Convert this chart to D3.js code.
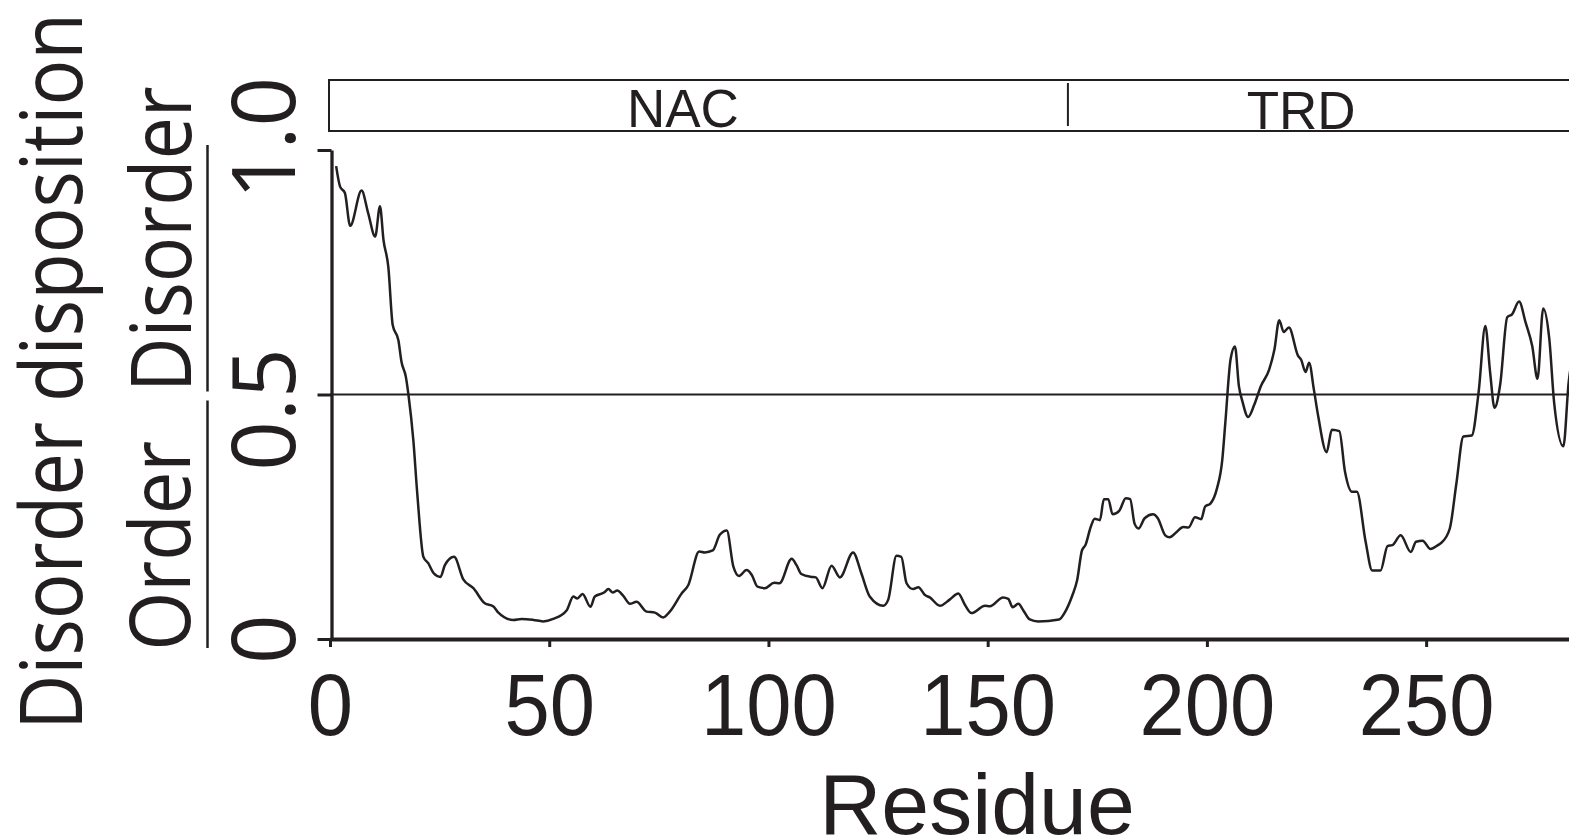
<!DOCTYPE html>
<html>
<head>
<meta charset="utf-8">
<script src="https://cdn.jsdelivr.net/npm/d3@7"></script>
<style>
  html, body { margin: 0; padding: 0; background: #fff; }
  svg { display: block; }
</style>
</head>
<body>
<script>
// ---------------- data ----------------
const residues = [
  1.4, 2.3, 3.4, 4.6, 7.2, 8.7, 10.3, 11.4, 12.2, 13.3, 14.3, 15.6, 16.3, 17.3, 17.9,
  19.0, 19.9, 21.3, 22.4, 23.6, 25.2, 26.2, 28.3, 30.4, 32.7, 35.3, 37.2, 38.4, 41.8,
  43.7, 46.4, 48.6, 50.9, 54.0, 55.5, 56.4, 57.6, 59.4, 60.4, 62.5, 63.5, 64.5, 65.5,
  66.9, 68.4, 69.9, 72.2, 74.1, 76.0, 77.5, 80.2, 81.7, 84.2, 85.5, 87.3, 88.9, 90.5,
  92.0, 93.3, 95.0, 96.2, 97.5, 99.2, 101.3, 102.5, 105.3, 106.4, 107.5, 109.8, 110.8,
  112.3, 114.4, 116.3, 119.3, 121.2, 123.1, 126.2, 127.3, 129.2, 130.3, 131.5, 133.0,
  134.2, 135.7, 136.8, 139.1, 141.4, 143.3, 144.8, 146.3, 149.4, 150.5, 153.5, 154.7,
  155.7, 157.0, 158.1, 159.6, 161.5, 166.3, 167.7, 169.3, 170.4, 171.5, 172.3, 173.5,
  174.4, 175.6, 176.5, 177.5, 178.5, 180.0, 181.5, 182.5, 183.5, 184.4, 185.8, 187.7,
  188.8, 190.5, 191.5, 193.1, 194.6, 195.8, 197.3, 198.7, 199.6, 200.8, 202.3, 203.5,
  204.2, 205.4, 206.4, 207.3, 208.1, 209.4, 210.8, 212.3, 214.2, 215.4, 216.5, 217.5,
  218.7, 220.8, 221.5, 222.5, 223.3, 224.4, 225.4, 227.3, 228.5, 230.2, 231.5, 233.1,
  234.2, 236.2, 237.7, 239.6, 241.2, 242.3, 244.2, 246.5, 247.7, 249.2, 251.0, 252.7,
  253.5, 255.4, 256.9, 258.5, 260.4, 262.0, 263.5, 264.6, 265.6, 266.9, 268.5, 269.6,
  271.2, 272.7, 274.2, 275.4, 276.7, 278.1, 279.2, 281.3, 282.5, 284.0
];
const disorder = [
  0.967, 0.925, 0.912, 0.845, 0.917, 0.871, 0.823, 0.885, 0.816, 0.761, 0.642, 0.611, 0.567, 0.536, 0.499,
  0.407, 0.298, 0.168, 0.155, 0.135, 0.127, 0.151, 0.168, 0.122, 0.104, 0.073, 0.067, 0.054, 0.039,
  0.041, 0.039, 0.036, 0.041, 0.059, 0.087, 0.083, 0.092, 0.066, 0.087, 0.095, 0.102, 0.095, 0.099,
  0.088, 0.072, 0.076, 0.056, 0.054, 0.044, 0.056, 0.093, 0.110, 0.179, 0.177, 0.181, 0.213, 0.222,
  0.148, 0.129, 0.141, 0.131, 0.107, 0.104, 0.115, 0.114, 0.164, 0.151, 0.133, 0.127, 0.126,
  0.104, 0.150, 0.126, 0.177, 0.134, 0.087, 0.068, 0.080, 0.170, 0.168, 0.114, 0.102,
  0.106, 0.090, 0.085, 0.068, 0.081, 0.093, 0.070, 0.053, 0.068, 0.067, 0.085, 0.082,
  0.065, 0.072, 0.059, 0.040, 0.036, 0.040, 0.056, 0.089, 0.120, 0.181, 0.192, 0.229,
  0.246, 0.243, 0.286, 0.286, 0.255, 0.262, 0.288, 0.286, 0.236, 0.226, 0.247, 0.255,
  0.247, 0.212, 0.208, 0.219, 0.229, 0.228, 0.249, 0.245, 0.271, 0.277, 0.308, 0.366,
  0.442, 0.572, 0.598, 0.517, 0.486, 0.454, 0.479, 0.517, 0.551, 0.592, 0.652, 0.628,
  0.637, 0.579, 0.571, 0.546, 0.565, 0.510, 0.455, 0.382, 0.428, 0.425, 0.342, 0.301,
  0.301, 0.199, 0.140, 0.140, 0.190, 0.192, 0.212, 0.178, 0.199, 0.201, 0.184, 0.192,
  0.197, 0.226, 0.318, 0.414, 0.416, 0.507, 0.640, 0.545, 0.473, 0.521, 0.658, 0.664,
  0.690, 0.647, 0.599, 0.532, 0.676, 0.613, 0.483, 0.394, 0.524, 0.600
];
const xTicks = [0, 50, 100, 150, 200, 250];
const yTicks = [0, 0.5, 1.0];
const yTickLabels = ["0", "0.5", "1.0"];
const threshold = 0.5;
const domainNames = ["NAC", "TRD"];
const domainStarts = [0, 168.3];
const domainLabelAt = [80.5, 221.5];

// ---------------- layout ----------------
const W = 1569, H = 840;
const ink = "#231f20";
const svg = d3.select("body").append("svg").attr("width", W).attr("height", H);
svg.append("rect").attr("width", W).attr("height", H).attr("fill", "#fff");

const x = d3.scaleLinear().domain([0, 290]).range([330, 330 + 290 * 4.3845]);
const y = d3.scaleLinear().domain([0, 1]).range([639, 150]);

// domain annotation box
const boxTop = 80, boxBot = 131;
svg.append("rect")
  .attr("x", x(0) - 1).attr("y", boxTop)
  .attr("width", x(290) - x(0) + 10).attr("height", boxBot - boxTop)
  .attr("fill", "none").attr("stroke", ink).attr("stroke-width", 2);
domainStarts.slice(1).forEach(s => {
  svg.append("line")
    .attr("x1", x(s)).attr("x2", x(s))
    .attr("y1", boxTop + 3).attr("y2", boxBot - 5)
    .attr("stroke", ink).attr("stroke-width", 2);
});
const baselines = [126.5, 129.3];
domainNames.forEach((n, i) => {
  svg.append("text")
    .attr("x", x(domainLabelAt[i])).attr("y", baselines[i])
    .attr("text-anchor", "middle")
    .attr("font-family", "'Liberation Sans', Arial, sans-serif")
    .attr("font-size", 53).attr("fill", ink)
    .text(n);
});

// threshold line
svg.append("line")
  .attr("x1", x(0)).attr("x2", W + 5)
  .attr("y1", y(threshold)).attr("y2", y(threshold))
  .attr("stroke", ink).attr("stroke-width", 2);

// x axis
const xAxis = d3.axisBottom(x).tickValues(xTicks).tickSize(8).tickSizeOuter(0).tickFormat(d3.format("d"));
const gx = svg.append("g").attr("transform", `translate(0,${y(0)})`).call(xAxis);
gx.select(".domain").attr("stroke", ink).attr("stroke-width", 4);
gx.selectAll(".tick line").attr("stroke", ink).attr("stroke-width", 3);
gx.selectAll(".tick text")
  .attr("y", 96).attr("dy", null)
  .attr("transform", "scale(0.925,1)")
  .attr("font-family", "'Liberation Sans', Arial, sans-serif")
  .attr("font-size", 88).attr("fill", ink);

// y axis
const yAxis = d3.axisLeft(y).tickValues(yTicks).tickSize(14).tickSizeOuter(0).tickFormat("");
const gy = svg.append("g").attr("transform", `translate(${x(0) + 1.5},0)`).call(yAxis);
gy.select(".domain").attr("stroke", ink).attr("stroke-width", 3.3);
gy.selectAll(".tick line").attr("stroke", ink).attr("stroke-width", 3);

// y tick labels (rotated)
const yLabelShift = [0, 15, -12];
yTicks.forEach((t, i) => {
  svg.append("text")
    .attr("transform", `translate(295,${y(t) + yLabelShift[i]}) rotate(-90)`)
    .attr("text-anchor", "middle")
    .attr("font-family", "'Open Sans', 'Noto Sans', sans-serif")
    .attr("font-size", 87).attr("fill", ink)
    .text(yTickLabels[i]);
});

// Order / Disorder side labels with separators
const sideFont = "'Open Sans', 'Noto Sans', sans-serif";
svg.append("text")
  .attr("transform", `translate(191,${(y(1) + y(threshold)) / 2 - 33}) rotate(-90)`)
  .attr("text-anchor", "middle").attr("font-family", sideFont)
  .attr("font-size", 85).attr("fill", ink)
  .attr("textLength", 306).attr("lengthAdjust", "spacingAndGlyphs")
  .text("Disorder");
svg.append("text")
  .attr("transform", `translate(190,${(y(threshold) + y(0)) / 2 + 29}) rotate(-90)`)
  .attr("text-anchor", "middle").attr("font-family", sideFont)
  .attr("font-size", 85).attr("fill", ink)
  .attr("textLength", 210).attr("lengthAdjust", "spacingAndGlyphs")
  .text("Order");
svg.append("line").attr("x1", 207.5).attr("x2", 207.5)
  .attr("y1", y(1) - 5).attr("y2", y(threshold) - 3)
  .attr("stroke", ink).attr("stroke-width", 2.5);
svg.append("line").attr("x1", 207.5).attr("x2", 207.5)
  .attr("y1", y(threshold) + 6).attr("y2", y(0) + 9)
  .attr("stroke", ink).attr("stroke-width", 2.5);

// axis titles
svg.append("text")
  .attr("transform", `translate(82,371.5) rotate(-90)`)
  .attr("text-anchor", "middle").attr("font-family", sideFont)
  .attr("font-size", 86).attr("fill", ink)
  .attr("textLength", 717).attr("lengthAdjust", "spacingAndGlyphs")
  .text("Disorder disposition");
svg.append("text")
  .attr("x", 977).attr("y", 834)
  .attr("text-anchor", "middle")
  .attr("font-family", "'Liberation Sans', Arial, sans-serif")
  .attr("font-size", 86).attr("fill", ink)
  .text("Residue");

// disorder curve
const pts = residues.map((r, i) => [r, disorder[i]]);
const line = d3.line().x(d => x(d[0])).y(d => y(d[1])).curve(d3.curveMonotoneX);
svg.append("path").datum(pts)
  .attr("d", line)
  .attr("fill", "none").attr("stroke", ink)
  .attr("stroke-width", 2.5).attr("stroke-linejoin", "round");
</script>
</body>
</html>
